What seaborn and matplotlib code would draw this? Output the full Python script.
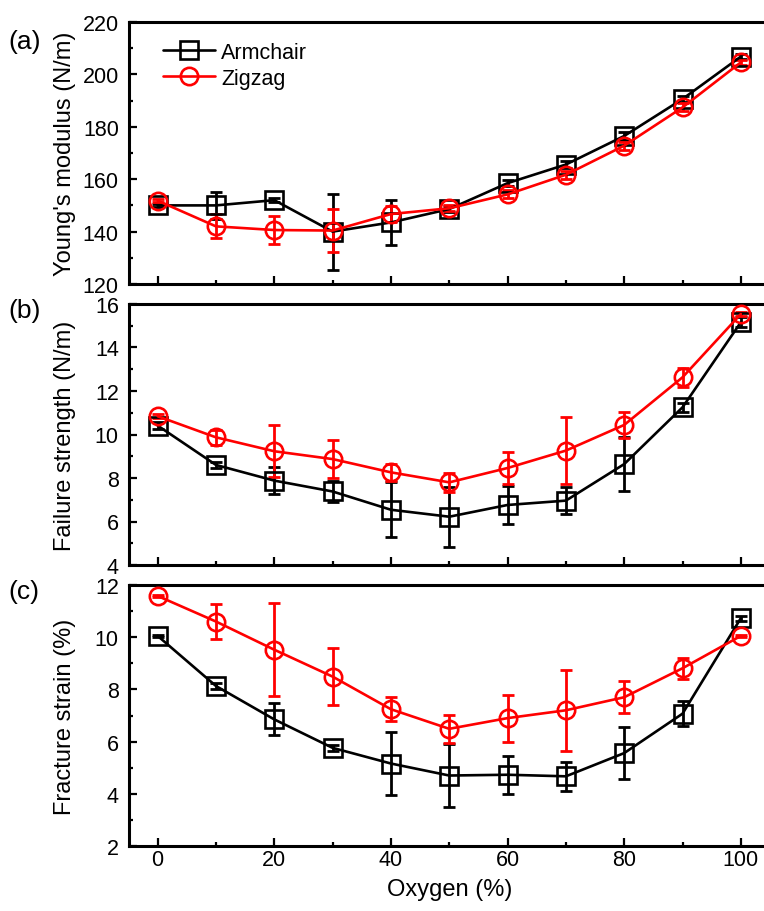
import numpy as np
import pandas as pd
import seaborn as sns
import matplotlib
matplotlib.use("Agg")
import matplotlib.pyplot as plt
from matplotlib.ticker import MultipleLocator

# Oxygen coverage (%)
oxygen = [0, 10, 20, 30, 40, 50, 60, 70, 80, 90, 100]

# Young's modulus (N/m)
ym_arm = [150.0, 150.0, 152.0, 140.0, 143.5, 148.6, 158.5, 165.6, 176.5, 190.6, 206.8]
ym_arm_err = [0.5, 5.2, 0.8, 14.5, 8.5, 1.0, 1.2, 1.2, 1.5, 1.2, 0.8]
ym_zig = [151.8, 142.0, 140.6, 140.4, 146.7, 148.9, 154.2, 161.7, 172.8, 187.4, 204.6]
ym_zig_err = [0.5, 4.6, 5.2, 8.2, 3.2, 1.2, 1.5, 1.5, 1.5, 1.5, 1.0]

# Failure strength (N/m)
fs_arm = [10.41, 8.60, 7.88, 7.38, 6.54, 6.22, 6.76, 6.96, 8.64, 11.25, 15.16]
fs_arm_err = [0.15, 0.15, 0.63, 0.50, 1.27, 1.38, 0.88, 0.62, 1.25, 0.20, 0.23]
fs_zig = [10.84, 9.87, 9.23, 8.87, 8.26, 7.80, 8.46, 9.26, 10.44, 12.63, 15.54]
fs_zig_err = [0.10, 0.35, 1.20, 0.89, 0.38, 0.43, 0.72, 1.53, 0.61, 0.43, 0.10]

# Fracture strain (%)
st_arm = [10.05, 8.13, 6.85, 5.76, 5.16, 4.70, 4.73, 4.67, 5.56, 7.07, 10.73]
st_arm_err = [0.05, 0.10, 0.61, 0.12, 1.20, 1.20, 0.72, 0.56, 1.00, 0.48, 0.10]
st_zig = [11.58, 10.60, 9.52, 8.49, 7.24, 6.49, 6.90, 7.20, 7.70, 8.81, 10.05]
st_zig_err = [0.05, 0.67, 1.79, 1.08, 0.45, 0.53, 0.90, 1.55, 0.61, 0.40, 0.05]

series_names = ["Armchair", "Zigzag"]
panel_tags = ["(a)", "(b)", "(c)"]
y_labels = ["Young's modulus (N/m)", "Failure strength (N/m)", "Fracture strain (%)"]
x_label = "Oxygen (%)"

sns.set_theme(style="ticks")
plt.rcParams["font.family"] = ["Liberation Sans", "DejaVu Sans"]
plt.rcParams["axes.linewidth"] = 2.0
plt.rcParams["text.color"] = "black"
plt.rcParams["axes.labelcolor"] = "black"
plt.rcParams["xtick.color"] = "black"
plt.rcParams["ytick.color"] = "black"

colors = {"Armchair": "black", "Zigzag": "#ff0000"}
markers = {"Armchair": "s", "Zigzag": "o"}

panels = [
    (ym_arm, ym_arm_err, ym_zig, ym_zig_err, (120, 220), 20, 10),
    (fs_arm, fs_arm_err, fs_zig, fs_zig_err, (4, 16), 2, 1),
    (st_arm, st_arm_err, st_zig, st_zig_err, (2, 12), 2, 1),
]

fig = plt.figure(figsize=(7.64, 9.12), dpi=100)
W, H = 764.0, 912.0
left_px, right_px = 128.5, 770.0
tops = [23, 305, 586]
bots = [285, 566, 847]
label_tops = [42, 311, 592]
label_family = ["Liberation Sans Narrow", "Liberation Sans"]

for i, (a, ae, z, ze, ylim, major, minor) in enumerate(panels):
    ax = fig.add_axes([left_px / W, 1 - bots[i] / H,
                       (right_px - left_px) / W, (bots[i] - tops[i]) / H])
    df = pd.DataFrame({
        "Oxygen": oxygen * 2,
        "value": list(a) + list(z),
        "err": list(ae) + list(ze),
        "Edge": [series_names[0]] * len(oxygen) + [series_names[1]] * len(oxygen),
    })
    for name in series_names:
        sub = df[df["Edge"] == name]
        c = colors[name]
        ax.errorbar(sub["Oxygen"], sub["value"], yerr=sub["err"], fmt="none",
                    ecolor=c, elinewidth=2.0, capsize=4.5, capthick=2.0, zorder=2)
        sns.lineplot(data=sub, x="Oxygen", y="value", ax=ax, color=c,
                     marker=markers[name], markersize=12.5, markerfacecolor="none",
                     markeredgecolor=c, markeredgewidth=1.9, linewidth=1.9,
                     errorbar=None, label=name, zorder=3)

    ax.set_xlim(-5, 105)
    ax.set_ylim(*ylim)
    ax.xaxis.set_major_locator(MultipleLocator(20))
    ax.xaxis.set_minor_locator(MultipleLocator(10))
    ax.yaxis.set_major_locator(MultipleLocator(major))
    ax.yaxis.set_minor_locator(MultipleLocator(minor))
    ax.tick_params(which="both", direction="in", top=False, right=False,
                   width=1.6, labelsize=15.5, colors="black")
    ax.tick_params(which="major", length=5.5)
    ax.tick_params(which="minor", length=3)
    ax.tick_params(axis="y", pad=7)
    ax.tick_params(axis="x", pad=2)
    ax.set_ylabel(y_labels[i], fontsize=17, family=label_family, color="black")
    ax.yaxis.set_label_coords(-0.082, 0.5)
    for sp in ax.spines.values():
        sp.set_linewidth(2.2)
        sp.set_color("black")
    leg = ax.get_legend()
    if leg is not None:
        leg.remove()
    if i < 2:
        ax.set_xlabel("")
        ax.tick_params(axis="x", labelbottom=False)
    else:
        ax.set_xlabel(x_label, fontsize=17, family=label_family, labelpad=6, color="black")
    if i == 0:
        leg = ax.legend(loc="upper left", bbox_to_anchor=(0.054, 0.925), frameon=False,
                        fontsize=15.5, handlelength=2.4, handletextpad=0.3,
                        labelspacing=0.25, borderpad=0, borderaxespad=0)
        for t in leg.get_texts():
            t.set_color("black")
    fig.text(8 / W, 1 - label_tops[i] / H, panel_tags[i], fontsize=19,
             ha="left", va="center", color="black")

fig.savefig("out.png", dpi=100)
